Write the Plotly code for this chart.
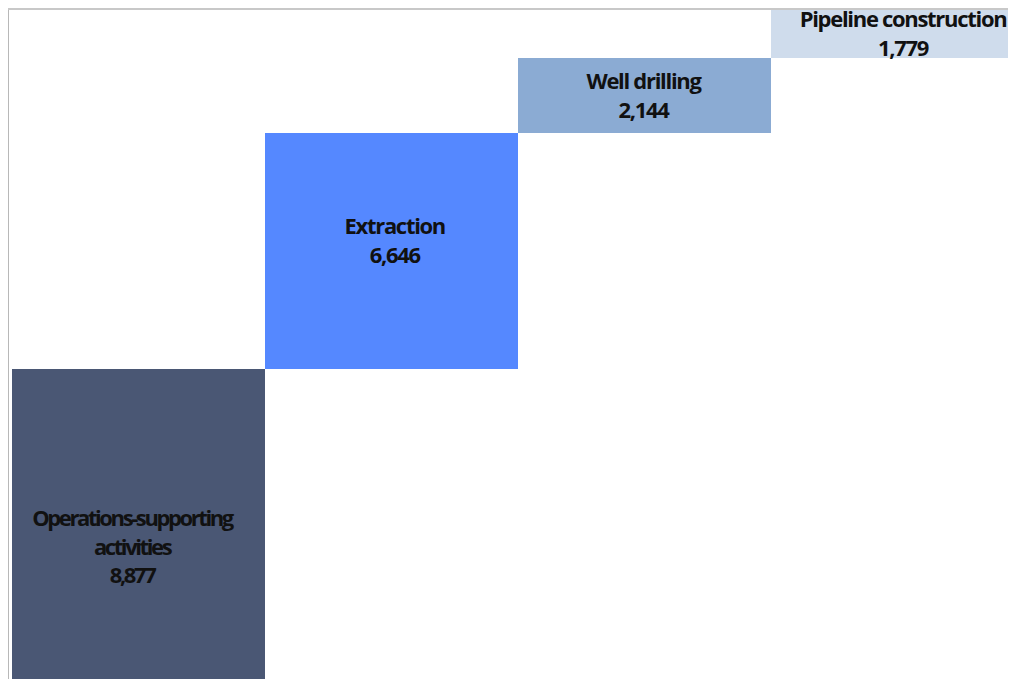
import plotly.graph_objects as go
import numpy as np

# ---- data ----
categories = ["Operations-supporting activities", "Extraction", "Well drilling", "Pipeline construction"]
label_text = ["Operations-supporting<br>activities", "Extraction", "Well drilling", "Pipeline construction"]
values = [8877, 6646, 2144, 1779]

# ---- styles ----
bar_colors = ["#4A5774", "#5588FF", "#8BABD3", "#CFDCEC"]
label_yshift = [-20, 12, 1, 1]
label_xshift = [-6, 4, 0, 6]
label_letter_spacing = [-2.4, -1.3, -1.3, -1.3]
y_range = [0, 19011]
x_range = [-0.5107, 3.501]

bases = np.concatenate([[0], np.cumsum(values)[:-1]])
xpos = list(range(len(categories)))

fig = go.Figure()
fig.add_trace(go.Bar(
    x=xpos,
    y=values,
    base=bases,
    marker=dict(color=bar_colors, line=dict(width=0)),
    width=1.0,
    hovertext=categories,
    hoverinfo="text+y",
    showlegend=False,
))

annotations = []
for i, (lab, v, b) in enumerate(zip(label_text, values, bases)):
    top = min(b + v, y_range[1])
    bot = max(b, y_range[0])
    annotations.append(dict(
        x=xpos[i], y=(top + bot) / 2, xref="x", yref="y",
        text=f"{lab}<br>{v:,}",
        showarrow=False, yshift=label_yshift[i], xshift=label_xshift[i],
        font=dict(family="Open Sans", size=22, color="#111111", weight=700),
        align="center",
    ))

fig.update_layout(
    width=1016, height=679,
    margin=dict(l=1, r=0, t=2, b=4),
    paper_bgcolor="white", plot_bgcolor="white",
    bargap=0,
    annotations=annotations,
    xaxis=dict(range=x_range, side="top", showline=True, linecolor="#c8c8c8", linewidth=1.5,
               showgrid=False, zeroline=False, showticklabels=False, ticks=""),
    yaxis=dict(range=y_range, showline=True, linecolor="#b8b8b8", linewidth=1.5,
               showgrid=False, zeroline=False, showticklabels=False, ticks=""),
)

post = """
var ls = %s;
var els = document.querySelectorAll('.annotation-text');
for (var i = 0; i < els.length; i++) { els[i].style.letterSpacing = ls[i] + 'px'; }
""" % str(label_letter_spacing)
fig.write_html("out.html", post_script=post)
